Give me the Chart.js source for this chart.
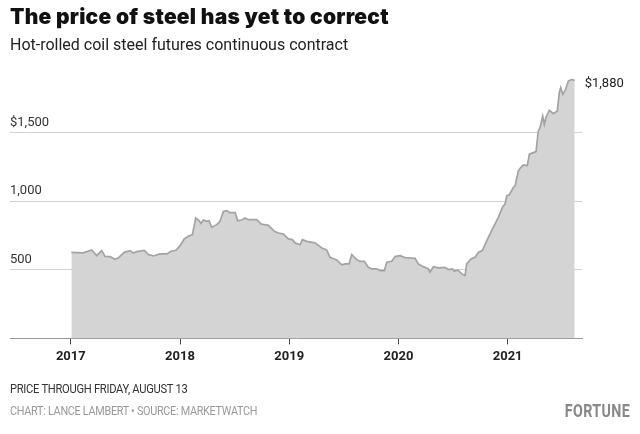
<!DOCTYPE html>
<html>
<head>
<meta charset="utf-8">
<script src="https://cdn.jsdelivr.net/npm/chart.js@4.4.0/dist/chart.umd.min.js"></script>
<style>
    html, body { margin: 0; padding: 0; background: #fff; }
    #wrap { position: relative; width: 640px; height: 434px; overflow: hidden; }
    #chart { position: absolute; left: 0; top: 0; }
    .txt { position: absolute; left: 10px; white-space: nowrap; transform-origin: left; }
    #title { top: 4px; font-family: Inter, "Noto Sans", sans-serif; font-weight: 900; font-size: 21px; color: #111; letter-spacing: 0.25px; }
    #subtitle { top: 35px; font-family: Roboto, sans-serif; font-size: 16px; color: #222; letter-spacing: 0; }
    #note { top: 382px; font-family: Roboto, sans-serif; font-size: 12px; color: #333; letter-spacing: -0.3px; transform: scaleX(0.93); }
    #source { top: 404px; font-family: Roboto, sans-serif; font-size: 12px; color: #999; letter-spacing: -0.3px; transform: scaleX(0.9); }
    #brand { position: absolute; right: 10px; top: 399px; font-family: Roboto, sans-serif; font-weight: 700; font-size: 19px; color: #888; letter-spacing: 0.5px; transform: scaleX(0.75); transform-origin: right; }
</style>
</head>
<body>
<div id="wrap">
    <canvas id="chart" width="640" height="434"></canvas>
    <div class="txt" id="title">The price of steel has yet to correct</div>
    <div class="txt" id="subtitle">Hot-rolled coil steel futures continuous contract</div>
    <div class="txt" id="note">PRICE THROUGH FRIDAY, AUGUST 13</div>
    <div class="txt" id="source">CHART: LANCE LAMBERT • SOURCE: MARKETWATCH</div>
    <div id="brand">FORTUNE</div>
</div>
<script>
// decimal year of each reading
const years = [
    2017.005, 2017.112, 2017.191, 2017.237, 2017.283, 2017.313, 2017.359, 2017.405, 2017.435, 2017.490,
    2017.542, 2017.572, 2017.603, 2017.673, 2017.710, 2017.755, 2017.817, 2017.878, 2017.918, 2017.963,
    2018.000, 2018.039, 2018.076, 2018.113, 2018.144, 2018.174, 2018.192, 2018.213, 2018.245, 2018.266,
    2018.290, 2018.336, 2018.366, 2018.397, 2018.428, 2018.458, 2018.504, 2018.528, 2018.565, 2018.595,
    2018.625, 2018.702, 2018.742, 2018.809, 2018.864, 2018.900, 2018.946, 2018.962, 2018.992, 2019.028,
    2019.053, 2019.099, 2019.120, 2019.160, 2019.236, 2019.298, 2019.343, 2019.374, 2019.435, 2019.481,
    2019.511, 2019.548, 2019.572, 2019.618, 2019.648, 2019.688, 2019.724, 2019.755, 2019.801, 2019.832,
    2019.871, 2019.893, 2019.939, 2019.969, 2020.015, 2020.060, 2020.152, 2020.182, 2020.228, 2020.274,
    2020.289, 2020.320, 2020.365, 2020.427, 2020.457, 2020.494, 2020.512, 2020.543, 2020.580, 2020.610,
    2020.625, 2020.665, 2020.702, 2020.732, 2020.768, 2020.809, 2020.854, 2020.885, 2020.915, 2020.955,
    2020.976, 2020.992, 2021.016, 2021.052, 2021.068, 2021.098, 2021.120, 2021.144, 2021.180, 2021.199,
    2021.235, 2021.260, 2021.281, 2021.297, 2021.321, 2021.336, 2021.352, 2021.382, 2021.419, 2021.455,
    2021.473, 2021.486, 2021.505, 2021.526, 2021.541, 2021.556, 2021.587, 2021.614
];

// price in dollars per short ton
const prices = [
    627, 623, 645, 603, 640, 598, 596, 577, 587, 627,
    640, 623, 632, 642, 611, 601, 616, 616, 635, 642,
    676, 725, 744, 756, 877, 858, 838, 863, 853, 858,
    809, 829, 853, 925, 931, 916, 916, 858, 863, 877,
    865, 865, 834, 824, 780, 768, 761, 749, 725, 720,
    696, 683, 720, 707, 696, 659, 645, 591, 572, 536,
    543, 543, 611, 574, 562, 562, 518, 507, 507, 494,
    494, 555, 562, 596, 603, 589, 584, 543, 523, 507,
    482, 523, 514, 518, 502, 507, 489, 499, 470, 458,
    543, 579, 591, 627, 640, 712, 785, 834, 882, 960,
    979, 1040, 1047, 1100, 1112, 1221, 1245, 1265, 1260, 1343,
    1354, 1362, 1512, 1536, 1621, 1561, 1614, 1663, 1638, 1658,
    1791, 1827, 1779, 1808, 1839, 1876, 1888, 1880
];

const yearTicks = [2017, 2018, 2019, 2020, 2021];
const priceTicks = [500, 1000, 1500];
const priceLabels = ["500", "1,000", "$1,500"];
const lastLabel = "$1,880";

const points = years.map((y, i) => ({ x: y, y: prices[i] }));

// writes the closing price next to the last point
const endLabel = {
    id: "endLabel",
    afterDatasetsDraw(chart) {
        const meta = chart.getDatasetMeta(0);
        const last = meta.data[meta.data.length - 1];
        const c = chart.ctx;
        c.save();
        c.font = "13px Roboto, sans-serif";
        c.fillStyle = "#222";
        c.textAlign = "left";
        c.textBaseline = "middle";
        c.fillText(lastLabel, last.x + 10, last.y + 3);
        c.restore();
    }
};

new Chart(document.getElementById("chart"), {
    type: "line",
    data: {
        datasets: [{
            data: points,
            borderColor: "#a3a3a3",
            borderWidth: 1.7,
            backgroundColor: "#d4d4d4",
            fill: "origin",
            pointRadius: 0,
            tension: 0
        }]
    },
    options: {
        responsive: false,
        animation: false,
        events: [],
        layout: { padding: { left: 10, right: 58, top: 64, bottom: 64 } },
        plugins: { legend: { display: false }, tooltip: { enabled: false } },
        scales: {
            x: {
                type: "linear",
                min: 2016.443,
                max: 2021.681,
                afterBuildTicks(scale) {
                    scale.ticks = yearTicks.map(v => ({ value: v }));
                },
                grid: {
                    drawOnChartArea: false,
                    drawTicks: true,
                    tickLength: 6,
                    color: "#444",
                    lineWidth: 1
                },
                border: { display: true, color: "#999", width: 1 },
                ticks: {
                    padding: 5,
                    maxRotation: 0,
                    autoSkip: false,
                    color: "#222",
                    font: { family: "Roboto, sans-serif", size: 13, weight: "bold" },
                    callback: v => String(v)
                }
            },
            y: {
                min: 0,
                max: 2000,
                z: 1,
                afterBuildTicks(scale) {
                    scale.ticks = priceTicks.map(v => ({ value: v }));
                },
                grid: {
                    drawTicks: false,
                    color: "rgba(0,0,0,0.18)",
                    lineWidth: 1
                },
                border: { display: false },
                ticks: {
                    mirror: true,
                    padding: 0,
                    labelOffset: -10,
                    color: "#333",
                    font: { family: "Roboto, sans-serif", size: 13 },
                    callback: v => priceLabels[priceTicks.indexOf(v)]
                }
            }
        }
    },
    plugins: [endLabel]
});
</script>
</body>
</html>
